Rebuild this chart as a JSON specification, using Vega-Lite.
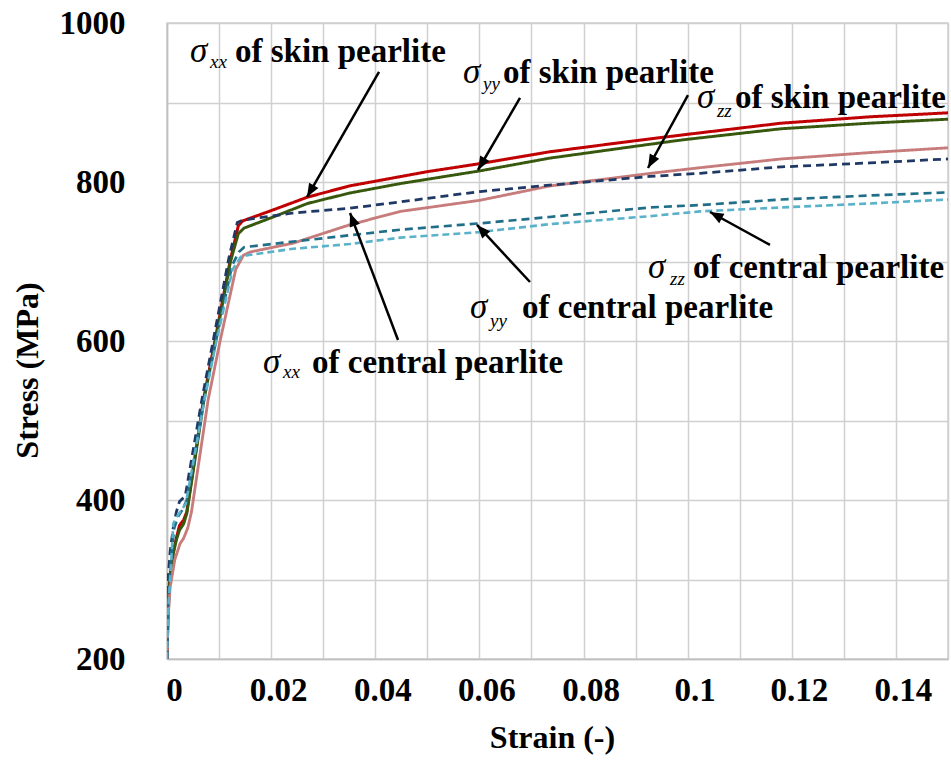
{
  "$schema": "https://vega.github.io/schema/vega-lite/v6.json",
  "width": 781,
  "height": 636,
  "autosize": {"type": "none"},
  "padding": {"left": 167, "top": 23, "right": 3, "bottom": 112},
  "background": "white",
  "config": {"view": {"stroke": "#D0D0D0", "strokeWidth": 1.5}, "font": "Liberation Serif, DejaVu Serif, serif"},
  "datasets": {
    "curves": [
      {"series": "xx_skin", "strain": 0, "stress": 200},
      {"series": "xx_skin", "strain": 0.0002, "stress": 260},
      {"series": "xx_skin", "strain": 0.0005, "stress": 300},
      {"series": "xx_skin", "strain": 0.0012, "stress": 335},
      {"series": "xx_skin", "strain": 0.0018, "stress": 352},
      {"series": "xx_skin", "strain": 0.0024, "stress": 368},
      {"series": "xx_skin", "strain": 0.0032, "stress": 375},
      {"series": "xx_skin", "strain": 0.0038, "stress": 385},
      {"series": "xx_skin", "strain": 0.007, "stress": 526},
      {"series": "xx_skin", "strain": 0.0092, "stress": 600},
      {"series": "xx_skin", "strain": 0.0121, "stress": 700},
      {"series": "xx_skin", "strain": 0.0137, "stress": 745},
      {"series": "xx_skin", "strain": 0.0145, "stress": 751},
      {"series": "xx_skin", "strain": 0.02, "stress": 764},
      {"series": "xx_skin", "strain": 0.027, "stress": 781},
      {"series": "xx_skin", "strain": 0.035, "stress": 795},
      {"series": "xx_skin", "strain": 0.045, "stress": 807},
      {"series": "xx_skin", "strain": 0.05, "stress": 813},
      {"series": "xx_skin", "strain": 0.06, "stress": 823},
      {"series": "xx_skin", "strain": 0.0735, "stress": 838},
      {"series": "xx_skin", "strain": 0.09, "stress": 852},
      {"series": "xx_skin", "strain": 0.1, "stress": 860},
      {"series": "xx_skin", "strain": 0.118, "stress": 874},
      {"series": "xx_skin", "strain": 0.135, "stress": 882},
      {"series": "xx_skin", "strain": 0.15, "stress": 887},

      {"series": "yy_skin", "strain": 0, "stress": 200},
      {"series": "yy_skin", "strain": 0.0002, "stress": 255},
      {"series": "yy_skin", "strain": 0.0005, "stress": 295},
      {"series": "yy_skin", "strain": 0.0012, "stress": 332},
      {"series": "yy_skin", "strain": 0.0018, "stress": 350},
      {"series": "yy_skin", "strain": 0.0024, "stress": 362},
      {"series": "yy_skin", "strain": 0.0032, "stress": 370},
      {"series": "yy_skin", "strain": 0.0038, "stress": 383},
      {"series": "yy_skin", "strain": 0.0071, "stress": 526},
      {"series": "yy_skin", "strain": 0.0093, "stress": 600},
      {"series": "yy_skin", "strain": 0.0122, "stress": 700},
      {"series": "yy_skin", "strain": 0.0137, "stress": 735},
      {"series": "yy_skin", "strain": 0.0148, "stress": 742},
      {"series": "yy_skin", "strain": 0.02, "stress": 755},
      {"series": "yy_skin", "strain": 0.027, "stress": 773},
      {"series": "yy_skin", "strain": 0.035, "stress": 786},
      {"series": "yy_skin", "strain": 0.0448, "stress": 798},
      {"series": "yy_skin", "strain": 0.0601, "stress": 814},
      {"series": "yy_skin", "strain": 0.0735, "stress": 830},
      {"series": "yy_skin", "strain": 0.09, "stress": 845},
      {"series": "yy_skin", "strain": 0.099, "stress": 853},
      {"series": "yy_skin", "strain": 0.118, "stress": 867},
      {"series": "yy_skin", "strain": 0.135, "stress": 874},
      {"series": "yy_skin", "strain": 0.15, "stress": 879},

      {"series": "zz_skin", "strain": 0, "stress": 200},
      {"series": "zz_skin", "strain": 0.0002, "stress": 250},
      {"series": "zz_skin", "strain": 0.0006, "stress": 290},
      {"series": "zz_skin", "strain": 0.0015, "stress": 325},
      {"series": "zz_skin", "strain": 0.0025, "stress": 345},
      {"series": "zz_skin", "strain": 0.0032, "stress": 352},
      {"series": "zz_skin", "strain": 0.004, "stress": 365},
      {"series": "zz_skin", "strain": 0.0047, "stress": 385},
      {"series": "zz_skin", "strain": 0.0079, "stress": 526},
      {"series": "zz_skin", "strain": 0.0102, "stress": 600},
      {"series": "zz_skin", "strain": 0.0132, "stress": 690},
      {"series": "zz_skin", "strain": 0.0147, "stress": 708},
      {"series": "zz_skin", "strain": 0.016, "stress": 712},
      {"series": "zz_skin", "strain": 0.0242, "stress": 723},
      {"series": "zz_skin", "strain": 0.035, "stress": 746},
      {"series": "zz_skin", "strain": 0.0448, "stress": 763},
      {"series": "zz_skin", "strain": 0.0601, "stress": 777},
      {"series": "zz_skin", "strain": 0.0735, "stress": 795},
      {"series": "zz_skin", "strain": 0.093, "stress": 811},
      {"series": "zz_skin", "strain": 0.1024, "stress": 818},
      {"series": "zz_skin", "strain": 0.118, "stress": 829},
      {"series": "zz_skin", "strain": 0.135, "stress": 837},
      {"series": "zz_skin", "strain": 0.15, "stress": 843},

      {"series": "xx_central", "strain": 0, "stress": 200},
      {"series": "xx_central", "strain": 0.0002, "stress": 300},
      {"series": "xx_central", "strain": 0.0006, "stress": 335},
      {"series": "xx_central", "strain": 0.0012, "stress": 365},
      {"series": "xx_central", "strain": 0.0018, "stress": 385},
      {"series": "xx_central", "strain": 0.0024, "stress": 398},
      {"series": "xx_central", "strain": 0.0035, "stress": 405},
      {"series": "xx_central", "strain": 0.0068, "stress": 530},
      {"series": "xx_central", "strain": 0.009, "stress": 605},
      {"series": "xx_central", "strain": 0.0119, "stress": 705},
      {"series": "xx_central", "strain": 0.0135, "stress": 749},
      {"series": "xx_central", "strain": 0.0145, "stress": 752},
      {"series": "xx_central", "strain": 0.0242, "stress": 761},
      {"series": "xx_central", "strain": 0.0351, "stress": 767},
      {"series": "xx_central", "strain": 0.0448, "stress": 775},
      {"series": "xx_central", "strain": 0.0601, "stress": 788},
      {"series": "xx_central", "strain": 0.0735, "stress": 796},
      {"series": "xx_central", "strain": 0.0927, "stress": 807},
      {"series": "xx_central", "strain": 0.1024, "stress": 811},
      {"series": "xx_central", "strain": 0.118, "stress": 819},
      {"series": "xx_central", "strain": 0.135, "stress": 824},
      {"series": "xx_central", "strain": 0.15, "stress": 829},

      {"series": "yy_central", "strain": 0, "stress": 200},
      {"series": "yy_central", "strain": 0.0002, "stress": 270},
      {"series": "yy_central", "strain": 0.0008, "stress": 330},
      {"series": "yy_central", "strain": 0.0014, "stress": 365},
      {"series": "yy_central", "strain": 0.0022, "stress": 380},
      {"series": "yy_central", "strain": 0.003, "stress": 388},
      {"series": "yy_central", "strain": 0.0038, "stress": 400},
      {"series": "yy_central", "strain": 0.0071, "stress": 526},
      {"series": "yy_central", "strain": 0.0094, "stress": 600},
      {"series": "yy_central", "strain": 0.0125, "stress": 695},
      {"series": "yy_central", "strain": 0.0138, "stress": 712},
      {"series": "yy_central", "strain": 0.0148, "stress": 718},
      {"series": "yy_central", "strain": 0.0242, "stress": 725},
      {"series": "yy_central", "strain": 0.0351, "stress": 733},
      {"series": "yy_central", "strain": 0.0448, "stress": 740},
      {"series": "yy_central", "strain": 0.0601, "stress": 748},
      {"series": "yy_central", "strain": 0.0735, "stress": 756},
      {"series": "yy_central", "strain": 0.0927, "stress": 768},
      {"series": "yy_central", "strain": 0.1024, "stress": 771},
      {"series": "yy_central", "strain": 0.118, "stress": 778},
      {"series": "yy_central", "strain": 0.135, "stress": 783},
      {"series": "yy_central", "strain": 0.15, "stress": 787},

      {"series": "zz_central", "strain": 0, "stress": 200},
      {"series": "zz_central", "strain": 0.0002, "stress": 258},
      {"series": "zz_central", "strain": 0.0008, "stress": 320},
      {"series": "zz_central", "strain": 0.0012, "stress": 370},
      {"series": "zz_central", "strain": 0.002, "stress": 380},
      {"series": "zz_central", "strain": 0.0028, "stress": 388},
      {"series": "zz_central", "strain": 0.0036, "stress": 395},
      {"series": "zz_central", "strain": 0.0072, "stress": 526},
      {"series": "zz_central", "strain": 0.0095, "stress": 600},
      {"series": "zz_central", "strain": 0.0126, "stress": 690},
      {"series": "zz_central", "strain": 0.0142, "stress": 706},
      {"series": "zz_central", "strain": 0.0155, "stress": 708},
      {"series": "zz_central", "strain": 0.0242, "stress": 716},
      {"series": "zz_central", "strain": 0.0351, "stress": 722},
      {"series": "zz_central", "strain": 0.0448, "stress": 730},
      {"series": "zz_central", "strain": 0.0601, "stress": 737},
      {"series": "zz_central", "strain": 0.0735, "stress": 747},
      {"series": "zz_central", "strain": 0.0927, "stress": 757},
      {"series": "zz_central", "strain": 0.1024, "stress": 763},
      {"series": "zz_central", "strain": 0.118, "stress": 768},
      {"series": "zz_central", "strain": 0.135, "stress": 773},
      {"series": "zz_central", "strain": 0.15, "stress": 778}
    ],
    "arrows": [
      {"strain": 0.04072, "stress": 938.4, "strain2": 0.02689, "stress2": 781.1, "angle": 210},
      {"strain": 0.0678, "stress": 905.7, "strain2": 0.05973, "stress2": 815.1, "angle": 210.3},
      {"strain": 0.10006, "stress": 909.4, "strain2": 0.09238, "stress2": 817.6, "angle": 208.7},
      {"strain": 0.04437, "stress": 601.3, "strain2": 0.03515, "stress2": 761.0, "angle": 339.3},
      {"strain": 0.06972, "stress": 674.2, "strain2": 0.05954, "stress2": 746.0, "angle": 317.1},
      {"strain": 0.11581, "stress": 720.8, "strain2": 0.10429, "stress2": 762.3, "angle": 298.8}
    ],
    "sig": [
      {"strain": 0.004417, "stress": 950.9, "t": "σ"},
      {"strain": 0.05685, "stress": 924.5, "t": "σ"},
      {"strain": 0.10179, "stress": 893.1, "t": "σ"},
      {"strain": 0.01844, "stress": 559.7, "t": "σ"},
      {"strain": 0.05819, "stress": 628.9, "t": "σ"},
      {"strain": 0.09238, "stress": 679.2, "t": "σ"}
    ],
    "sub": [
      {"strain": 0.008259, "stress": 943.4, "t": "xx"},
      {"strain": 0.06069, "stress": 915.7, "t": "yy"},
      {"strain": 0.10563, "stress": 881.8, "t": "zz"},
      {"strain": 0.02228, "stress": 553.5, "t": "xx"},
      {"strain": 0.06204, "stress": 617.6, "t": "yy"},
      {"strain": 0.09661, "stress": 670.4, "t": "zz"}
    ],
    "lab": [
      {"strain": 0.01306, "stress": 950.9, "t": "of skin pearlite"},
      {"strain": 0.06453, "stress": 924.5, "t": "of skin pearlite"},
      {"strain": 0.10909, "stress": 893.1, "t": "of skin pearlite"},
      {"strain": 0.02785, "stress": 559.7, "t": "of central pearlite"},
      {"strain": 0.06818, "stress": 628.9, "t": "of central pearlite"},
      {"strain": 0.10102, "stress": 679.2, "t": "of central pearlite"}
    ]
  },
  "layer": [
    {
      "data": {"name": "curves"},
      "mark": {"type": "line", "clip": true},
      "encoding": {
        "x": {
          "field": "strain", "type": "quantitative",
          "scale": {"domain": [0, 0.15], "nice": false, "zero": false},
          "axis": {
            "title": "Strain (-)",
            "values": [0, 0.01, 0.02, 0.03, 0.04, 0.05, 0.06, 0.07, 0.08, 0.09, 0.1, 0.11, 0.12, 0.13, 0.14, 0.15],
            "labelExpr": "(round(datum.value*100) % 2 == 0 && datum.value < 0.145) ? toString(round(datum.value*100)/100) : ''",
            "grid": true, "gridColor": "#D0D0D0", "gridWidth": 1.5,
            "ticks": false, "domainColor": "#BFBFBF", "domainWidth": 1.5,
            "labelFont": "Liberation Serif, DejaVu Serif, serif", "labelFontWeight": "bold", "labelFontSize": 33, "labelColor": "black",
            "labelPadding": 15, "labelOffset": 7, "labelOverlap": false, "labelFlush": false, "labelBound": false,
            "titleFont": "Liberation Serif, DejaVu Serif, serif", "titleFontWeight": "bold", "titleFontSize": 32, "titleColor": "black",
            "titleBaseline": "alphabetic", "titleY": 88, "titleX": 385
          }
        },
        "y": {
          "field": "stress", "type": "quantitative",
          "scale": {"domain": [200, 1000], "nice": false, "zero": false},
          "axis": {
            "title": "Stress (MPa)",
            "values": [200, 300, 400, 500, 600, 700, 800, 900, 1000],
            "labelExpr": "datum.value % 200 == 0 ? toString(datum.value) : ''",
            "grid": true, "gridColor": "#D0D0D0", "gridWidth": 1.5,
            "ticks": false, "domainColor": "#BFBFBF", "domainWidth": 1.5,
            "labelFont": "Liberation Serif, DejaVu Serif, serif", "labelFontWeight": "bold", "labelFontSize": 33, "labelColor": "black",
            "labelPadding": 42, "labelOverlap": false, "labelFlush": false, "labelBound": false,
            "titleFont": "Liberation Serif, DejaVu Serif, serif", "titleFontWeight": "bold", "titleFontSize": 32, "titleColor": "black",
            "titleBaseline": "alphabetic", "titleAngle": -90, "titleX": -130, "titleY": 347, "titleAlign": "center"
          }
        },
        "color": {
          "field": "series", "type": "nominal", "legend": null,
          "scale": {"domain": ["xx_skin", "yy_skin", "zz_skin", "xx_central", "yy_central", "zz_central"],
                    "range": ["#C00000", "#38580E", "#C77B7B", "#1F3864", "#216E88", "#5AB2CA"]}
        },
        "strokeDash": {
          "field": "series", "type": "nominal", "legend": null,
          "scale": {"domain": ["xx_skin", "yy_skin", "zz_skin", "xx_central", "yy_central", "zz_central"],
                    "range": [[1, 0], [1, 0], [1, 0], [8, 5], [8, 5], [7, 4]]}
        },
        "strokeWidth": {
          "field": "series", "type": "nominal", "legend": null,
          "scale": {"domain": ["xx_skin", "yy_skin", "zz_skin", "xx_central", "yy_central", "zz_central"],
                    "range": [3, 2.6, 2.2, 2.6, 2.6, 2.4]}
        },
        "order": {"field": "strain", "type": "quantitative"}
      }
    },
    {
      "data": {"name": "arrows"},
      "mark": {"type": "rule", "color": "black", "strokeWidth": 2.5},
      "encoding": {
        "x": {"field": "strain", "type": "quantitative"},
        "y": {"field": "stress", "type": "quantitative"},
        "x2": {"field": "strain2"},
        "y2": {"field": "stress2"}
      }
    },
    {
      "data": {"name": "arrows"},
      "mark": {"type": "point", "shape": "M0,0L-0.6,1.5L0.6,1.5Z", "filled": true, "color": "black", "opacity": 1, "size": 324},
      "encoding": {
        "x": {"field": "strain2", "type": "quantitative"},
        "y": {"field": "stress2", "type": "quantitative"},
        "angle": {"field": "angle", "type": "quantitative", "scale": null}
      }
    },
    {
      "data": {"name": "sig"},
      "mark": {"type": "text", "font": "Liberation Serif, DejaVu Serif, serif", "fontStyle": "italic", "fontSize": 35, "align": "left", "baseline": "alphabetic", "color": "black"},
      "encoding": {
        "x": {"field": "strain", "type": "quantitative"},
        "y": {"field": "stress", "type": "quantitative"},
        "text": {"field": "t"}
      }
    },
    {
      "data": {"name": "sub"},
      "mark": {"type": "text", "font": "Liberation Serif, DejaVu Serif, serif", "fontStyle": "italic", "fontSize": 19, "align": "left", "baseline": "alphabetic", "color": "black"},
      "encoding": {
        "x": {"field": "strain", "type": "quantitative"},
        "y": {"field": "stress", "type": "quantitative"},
        "text": {"field": "t"}
      }
    },
    {
      "data": {"name": "lab"},
      "mark": {"type": "text", "font": "Liberation Serif, DejaVu Serif, serif", "fontWeight": "bold", "fontSize": 33, "align": "left", "baseline": "alphabetic", "color": "black"},
      "encoding": {
        "x": {"field": "strain", "type": "quantitative"},
        "y": {"field": "stress", "type": "quantitative"},
        "text": {"field": "t"}
      }
    }
  ]
}
